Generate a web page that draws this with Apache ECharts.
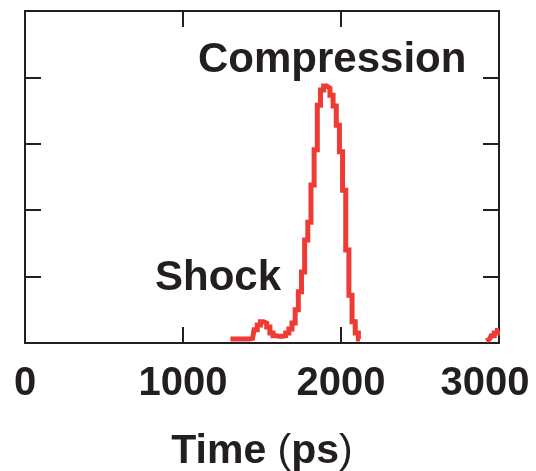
<!DOCTYPE html>
<html><head><meta charset="utf-8">
<script src="https://cdn.jsdelivr.net/npm/echarts@6/dist/echarts.min.js"></script>
<style>html,body{margin:0;padding:0;background:#fff}#c{width:536px;height:471px}</style>
</head><body><div id="c"></div>
<script>
// Main pulse (shock + compression), time in ps
const timeMain = [1300,1320,1340,1360,1380,1400,1420,1440,1460,1480,1500,1520,1540,1560,1580,1600,1620,1640,1660,1680,1700,1720,1740,1760,1780,1800,1820,1840,1860,1880,1900,1920,1940,1960,1980,2000,2020,2040,2060,2080,2100,2120];
const signalMain = [0.06,0.06,0.06,0.06,0.06,0.06,0.06,0.07,0.20,0.27,0.32,0.30,0.24,0.15,0.11,0.10,0.10,0.11,0.15,0.21,0.30,0.50,0.77,1.07,1.55,1.82,2.38,2.91,3.58,3.81,3.87,3.84,3.73,3.57,3.28,2.88,2.30,1.40,0.72,0.32,0.15,0.06];
// Late rise at the right edge
const timeTail = [2920,2940,2960,2980,3000];
const signalTail = [0.03,0.06,0.11,0.15,0.19];
const xTicks = [0,1000,2000,3000];
const labels = {compression:'Compression', shock:'Shock'};

const ink = '#231f20';
const red = '#ee3b33';
const FONT = '"Liberation Sans", Arial, Helvetica, sans-serif';

function pairs(t, v){ return t.map((x,i)=>[x, v[i]]); }

const chart = echarts.init(document.getElementById('c'), null, {renderer:'canvas'});
const axisLine = {show:true, onZero:false, lineStyle:{color:ink, width:2}};
const tickIn = {show:true, inside:true, length:16, lineStyle:{color:ink, width:2}};
chart.setOption({
  animation:false,
  backgroundColor:'#fff',
  grid:{left:25, right:37, top:11, bottom:128, containLabel:false, outerBoundsMode:'none'},
  xAxis:[{
    type:'value', min:xTicks[0], max:xTicks[xTicks.length-1], interval:1000, position:'bottom',
    axisLine:axisLine, axisTick:tickIn, splitLine:{show:false},
    axisLabel:{
      show:true, margin:21, color:ink, fontFamily:FONT, fontWeight:'bold', fontSize:40,
      formatter:function(v){ return v===3000 ? '{last|'+v+'}' : String(v); },
      rich:{last:{fontFamily:FONT, fontWeight:'bold', fontSize:40, color:ink, padding:[0,28,0,0]}}
    },
    name:'{b|Time }{n|(}{b|ps}{n|)}', nameLocation:'middle', nameGap:88,
    nameTextStyle:{rich:{
      b:{fontFamily:FONT, fontWeight:'bold', fontSize:41, color:ink},
      n:{fontFamily:FONT, fontWeight:'normal', fontSize:41, color:ink}
    }}
  },{
    type:'value', min:xTicks[0], max:xTicks[xTicks.length-1], interval:1000, position:'top',
    axisLine:axisLine, axisTick:tickIn, axisLabel:{show:false}, splitLine:{show:false}
  }],
  yAxis:[{
    type:'value', min:0, max:5, interval:1, position:'left',
    axisLine:axisLine, axisTick:tickIn, axisLabel:{show:false}, splitLine:{show:false}
  },{
    type:'value', min:0, max:5, interval:1, position:'right',
    axisLine:axisLine, axisTick:tickIn, axisLabel:{show:false}, splitLine:{show:false}
  }],
  series:[{
    type:'line', step:'middle', showSymbol:false, clip:true,
    data:pairs(timeMain, signalMain),
    lineStyle:{color:red, width:5, join:'miter'}, z:1
  },{
    type:'line', step:'middle', showSymbol:false, clip:true,
    data:pairs(timeTail, signalTail),
    lineStyle:{color:red, width:5, join:'miter'}, z:1
  }],
  graphic:[
    {type:'text', left:198, top:39, style:{text:labels.compression, font:'bold 42px '+FONT, fill:ink}},
    {type:'text', left:155, top:257, style:{text:labels.shock, font:'bold 42px '+FONT, fill:ink}}
  ]
});
</script></body></html>
